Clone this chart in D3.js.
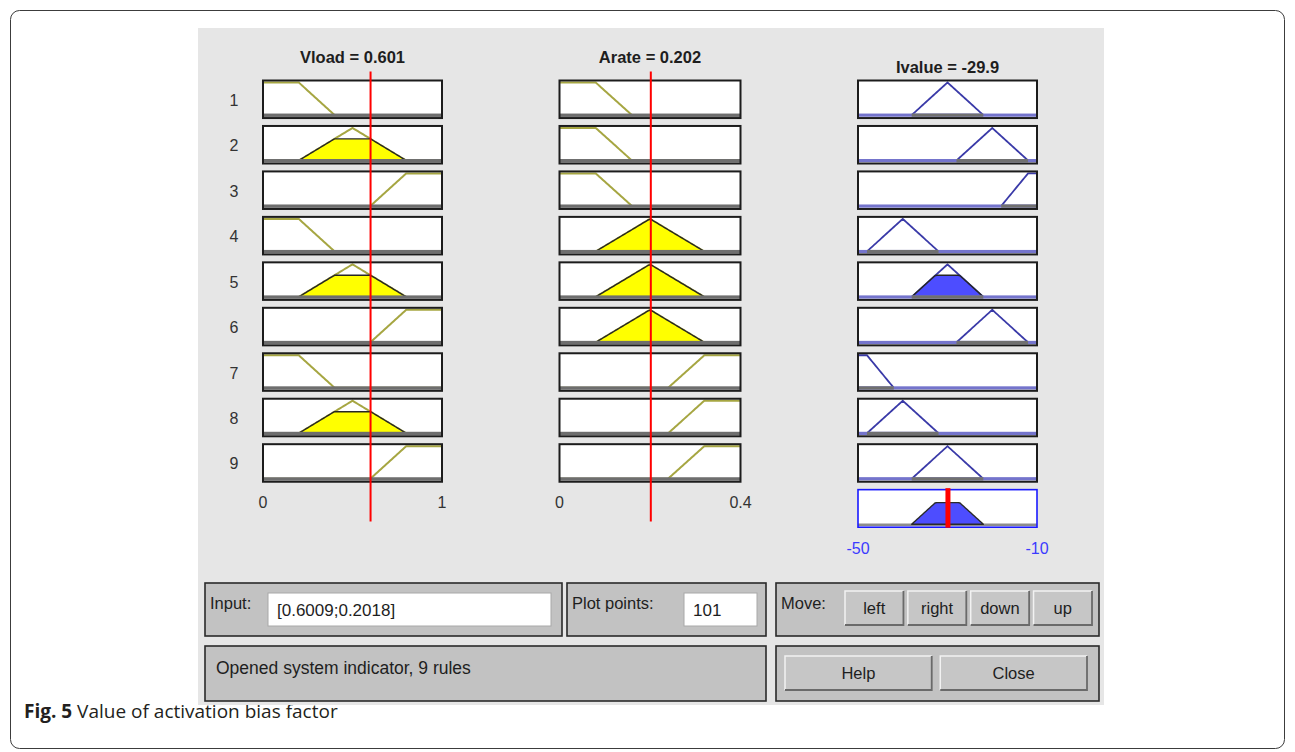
<!DOCTYPE html>
<html>
<head>
<meta charset="utf-8">
<script src="https://cdn.jsdelivr.net/npm/d3@7"></script>
<style>
  html, body { margin: 0; padding: 0; background: #fff; }
  svg { display: block; }
</style>
</head>
<body>
<svg id="chart" width="1295" height="752"></svg>
<script>
// ---- Fuzzy system "indicator": two inputs, one output, nine rules ----
const inputNames = ["Vload", "Arate"];
const inputValues = [0.6009, 0.2018];
const inputRanges = [[0, 1], [0, 0.4]];
const inputTickLabels = [["0", "1"], ["0", "0.4"]];

// Membership functions as trapezoids [a, b, c, d] (triangles have b === c)
const vloadMF = { low: [0, 0, 0.2, 0.4], mid: [0.2, 0.5, 0.5, 0.8], high: [0.6, 0.8, 1, 1] };
const arateMF = { low: [0, 0, 0.08, 0.16], mid: [0.08, 0.2, 0.2, 0.32], high: [0.24, 0.32, 0.4, 0.4] };

const outputName = "Ivalue";
const outputValue = -29.9;
const outputRange = [-50, -10];
const outputTickLabels = ["-50", "-10"];
const ivalueMF = {
  vlow:  [-50, -50, -48, -42],
  low:   [-48, -40, -40, -32],
  mid:   [-38, -30, -30, -22],
  high:  [-28, -20, -20, -12],
  vhigh: [-18, -12, -10, -10]
};

// Rule base: antecedent and consequent terms for rules 1..9
const ruleIds    = [1, 2, 3, 4, 5, 6, 7, 8, 9];
const ruleVload  = ["low", "mid", "high", "low", "mid", "high", "low", "mid", "high"];
const ruleArate  = ["low", "low", "low", "mid", "mid", "mid", "high", "high", "high"];
const ruleIvalue = ["mid", "high", "vhigh", "low", "mid", "high", "vlow", "low", "mid"];

const plotPoints = 101;
const statusText = "Opened system indicator, 9 rules";
const moveButtons = ["left", "right", "down", "up"];
const dialogButtons = ["Help", "Close"];

// ---- helpers ----
function trapmf(x, p) {
  const [a, b, c, d] = p;
  if (x < a || x > d) return 0;
  if (x >= b && x <= c) return 1;
  if (x < b) return (x - a) / (b - a);
  return (d - x) / (d - c);
}
function samples(domain) {
  return d3.range(plotPoints).map(k => domain[0] + k * (domain[1] - domain[0]) / (plotPoints - 1));
}
const fmt = d3.formatLocale({ decimal: ".", thousands: ",", grouping: [3], currency: ["", ""], minus: "-" }).format(".3~g");
const VISIBLE = 0.01;   // firing levels below this are not drawn

const svg = d3.select("#chart");
const UI_FONT = "'Liberation Sans', Arial, sans-serif";

// page frame and caption
svg.append("rect")
  .attr("x", 10.5).attr("y", 10.5).attr("width", 1274).attr("height", 738).attr("rx", 9)
  .attr("fill", "#fff").attr("stroke", "#3c3c3c").attr("stroke-width", 1);

const cap = svg.append("text").attr("x", 24).attr("y", 718)
  .attr("font-family", "'Open Sans', sans-serif").attr("font-size", 19).attr("fill", "#231f20");
cap.append("tspan").attr("font-weight", "bold").text("Fig. 5");
cap.append("tspan").text(" Value of activation bias factor");

// viewer window background
svg.append("rect").attr("x", 198).attr("y", 28).attr("width", 906).attr("height", 677).attr("fill", "#e6e6e6");

// ---- scales ----
const xScales = [
  d3.scaleLinear().domain(inputRanges[0]).range([263, 442]),
  d3.scaleLinear().domain(inputRanges[1]).range([559.5, 740.5])
];
const xOut = d3.scaleLinear().domain(outputRange).range([858, 1037]);
const rowBand = d3.scaleBand().domain(d3.range(10)).range([80.5, 527.2]).paddingInner(0.174).paddingOuter(0);
const bw = rowBand.bandwidth();
function yScale(i) {
  const top = rowBand(i);
  return d3.scaleLinear().domain([0, 1]).range([top + bw - 3, top + 2]);
}

const OLIVE = "#a6a642";
const plots = svg.append("g");

// ---- input columns ----
const inputMFs = [vloadMF, arateMF];
const inputRuleTerms = [ruleVload, ruleArate];
const inputLevels = inputValues.map((v, ci) => ruleIds.map((_, i) => trapmf(v, inputMFs[ci][inputRuleTerms[ci][i]])));

inputNames.forEach((name, ci) => {
  const x = xScales[ci];
  const xs = samples(x.domain());
  const [x0, x1] = x.range();
  const g = plots.append("g");

  g.append("text").attr("x", (x0 + x1) / 2).attr("y", 63)
    .attr("text-anchor", "middle").attr("font-family", UI_FONT).attr("font-weight", "bold")
    .attr("font-size", 16.5).attr("fill", "#1e1e1e")
    .text(`${name} = ${fmt(inputValues[ci])}`);

  ruleIds.forEach((id, i) => {
    const top = rowBand(i);
    const y = yScale(i);
    const p = inputMFs[ci][inputRuleTerms[ci][i]];
    const level = inputLevels[ci][i];
    const row = g.append("g");

    row.append("rect").attr("x", x0).attr("y", top).attr("width", x1 - x0).attr("height", bw).attr("fill", "#fff");
    row.append("path")
      .attr("d", d3.line().x(d => x(d)).y(d => y(trapmf(d, p)))(xs))
      .attr("fill", "none").attr("stroke", OLIVE).attr("stroke-width", 2);
    if (level > VISIBLE) {
      const pts = xs.filter((d, k) => trapmf(d, p) > 0 || trapmf(xs[Math.min(k + 1, xs.length - 1)], p) > 0 || trapmf(xs[Math.max(k - 1, 0)], p) > 0);
      row.append("path")
        .attr("d", d3.line().x(d => x(d)).y(d => y(Math.min(trapmf(d, p), level)))(pts) + "Z")
        .attr("fill", "#ffff00").attr("stroke", "#262626").attr("stroke-width", 1.4).attr("stroke-linejoin", "round");
    }
    row.append("rect").attr("x", x0).attr("y", top + bw - 4.5).attr("width", x1 - x0).attr("height", 3.4).attr("fill", "#6e6e6e");
    row.append("rect").attr("x", x0).attr("y", top).attr("width", x1 - x0).attr("height", bw)
      .attr("fill", "none").attr("stroke", "#1c1c1c").attr("stroke-width", 2);

    if (ci === 0) {
      g.append("text").attr("x", 234).attr("y", top + bw / 2 + 6.5)
        .attr("text-anchor", "middle").attr("font-family", UI_FONT).attr("font-size", 16).attr("fill", "#333")
        .text(id);
    }
  });

  inputTickLabels[ci].forEach((t, k) => {
    g.append("text").attr("x", x(x.domain()[k])).attr("y", 508)
      .attr("text-anchor", "middle").attr("font-family", UI_FONT).attr("font-size", 16).attr("fill", "#333")
      .text(t);
  });

  g.append("line").attr("x1", x(inputValues[ci])).attr("x2", x(inputValues[ci]))
    .attr("y1", 71.5).attr("y2", 521.5).attr("stroke", "#ff0000").attr("stroke-width", 2);
});

// ---- output column ----
const firing = ruleIds.map((_, i) => Math.min(inputLevels[0][i], inputLevels[1][i]));
const xsOut = samples(outputRange);
const [ox0, ox1] = xOut.range();
const og = plots.append("g");

og.append("text").attr("x", (ox0 + ox1) / 2).attr("y", 72.5)
  .attr("text-anchor", "middle").attr("font-family", UI_FONT).attr("font-weight", "bold")
  .attr("font-size", 16.5).attr("fill", "#1e1e1e")
  .text(`${outputName} = ${fmt(outputValue)}`);

ruleIds.forEach((id, i) => {
  const top = rowBand(i);
  const y = yScale(i);
  const p = ivalueMF[ruleIvalue[i]];
  const row = og.append("g");
  row.append("rect").attr("x", ox0).attr("y", top).attr("width", ox1 - ox0).attr("height", bw).attr("fill", "#fff");
  row.append("path")
    .attr("d", d3.line().x(d => xOut(d)).y(d => y(trapmf(d, p)))(xsOut))
    .attr("fill", "none").attr("stroke", "#3a3aa8").attr("stroke-width", 1.8);
  if (firing[i] > VISIBLE) {
    const pts = xsOut.filter(d => d >= p[0] && d <= p[3]);
    row.append("path")
      .attr("d", d3.line().x(d => xOut(d)).y(d => y(Math.min(trapmf(d, p), firing[i])))(pts) + "Z")
      .attr("fill", "#4d4dff").attr("stroke", "#262626").attr("stroke-width", 1.4).attr("stroke-linejoin", "round");
  }
  row.append("rect").attr("x", ox0).attr("y", top + bw - 4.5).attr("width", ox1 - ox0).attr("height", 3.2).attr("fill", "#7474cc");
  row.append("rect").attr("x", xOut(Math.max(p[0], outputRange[0]))).attr("y", top + bw - 4.5)
    .attr("width", xOut(Math.min(p[3], outputRange[1])) - xOut(Math.max(p[0], outputRange[0]))).attr("height", 3.2).attr("fill", "#707070");
  row.append("rect").attr("x", ox0).attr("y", top).attr("width", ox1 - ox0).attr("height", bw)
    .attr("fill", "none").attr("stroke", "#1c1c1c").attr("stroke-width", 2);
});

// aggregated output
{
  const i = 9;
  const top = rowBand(i);
  const y = yScale(i);
  const agg = d => d3.max(ruleIds, (_, r) => firing[r] > VISIBLE ? Math.min(trapmf(d, ivalueMF[ruleIvalue[r]]), firing[r]) : 0);
  og.append("rect").attr("x", ox0).attr("y", top).attr("width", ox1 - ox0).attr("height", bw).attr("fill", "#fff");
  og.append("line").attr("x1", ox0).attr("x2", ox1).attr("y1", y(0) + 0.5).attr("y2", y(0) + 0.5)
    .attr("stroke", "#8c8c8c").attr("stroke-width", 2.4);
  const pts = xsOut.filter((d, k) => agg(d) > 0 || agg(xsOut[Math.min(k + 1, xsOut.length - 1)]) > 0 || agg(xsOut[Math.max(k - 1, 0)]) > 0);
  og.append("path")
    .attr("d", d3.line().x(d => xOut(d)).y(d => y(agg(d)))(pts) + "Z")
    .attr("fill", "#4d4dff").attr("stroke", "#2a2a2a").attr("stroke-width", 1.4).attr("stroke-linejoin", "round");
  og.append("rect").attr("x", ox0).attr("y", top).attr("width", ox1 - ox0).attr("height", bw)
    .attr("fill", "none").attr("stroke", "#1a1aff").attr("stroke-width", 1.6);
  og.append("line").attr("x1", xOut(outputValue)).attr("x2", xOut(outputValue))
    .attr("y1", top - 1.5).attr("y2", top + bw + 0.5).attr("stroke", "#ff0000").attr("stroke-width", 5);

  outputTickLabels.forEach((t, k) => {
    og.append("text").attr("x", xOut(outputRange[k])).attr("y", 554)
      .attr("text-anchor", "middle").attr("font-family", UI_FONT).attr("font-size", 16).attr("fill", "#3b3bff")
      .text(t);
  });
}

// ---- control panel ----
const ctrl = svg.append("g").attr("font-family", UI_FONT).attr("font-size", 16.5).attr("fill", "#1e1e1e");

function frame(x, y, w, h) {
  ctrl.append("rect").attr("x", x).attr("y", y).attr("width", w).attr("height", h)
    .attr("fill", "#c2c2c2").attr("stroke", "#2a2a2a").attr("stroke-width", 1.6);
}
function editBox(x, y, w, h, txt) {
  ctrl.append("rect").attr("x", x).attr("y", y).attr("width", w).attr("height", h)
    .attr("fill", "#fff").attr("stroke", "#a8a8a8").attr("stroke-width", 1);
  ctrl.append("text").attr("x", x + 9).attr("y", y + h / 2 + 6.5).attr("font-size", 17).text(txt);
}
function button(x, y, w, h, txt) {
  ctrl.append("rect").attr("x", x).attr("y", y).attr("width", w).attr("height", h).attr("fill", "#c6c6c6");
  ctrl.append("path").attr("d", `M${x},${y + h} V${y} H${x + w}`).attr("fill", "none").attr("stroke", "#f2f2f2").attr("stroke-width", 1.5);
  ctrl.append("path").attr("d", `M${x + w},${y} V${y + h} H${x}`).attr("fill", "none").attr("stroke", "#6a6a6a").attr("stroke-width", 1.8);
  ctrl.append("text").attr("x", x + w / 2).attr("y", y + h / 2 + 6).attr("text-anchor", "middle").text(txt);
}

frame(205, 583, 357, 53);
ctrl.append("text").attr("x", 210).attr("y", 609).text("Input:");
editBox(268, 593, 283, 33, `[${inputValues.join(";")}]`);

frame(567, 583, 199, 53);
ctrl.append("text").attr("x", 572).attr("y", 609).text("Plot points:");
editBox(684, 593, 73, 33, String(plotPoints));

frame(776, 583, 323, 53);
ctrl.append("text").attr("x", 781).attr("y", 609).text("Move:");
const moveX = d3.scaleBand().domain(moveButtons).range([845, 1092]).paddingInner(0.07);
moveButtons.forEach(b => button(moveX(b), 591, moveX.bandwidth(), 34, b));

frame(205, 646, 561, 55);
ctrl.append("text").attr("x", 216).attr("y", 674).attr("font-size", 17.5).text(statusText);

frame(776, 646, 323, 55);
const dlgX = d3.scaleBand().domain(dialogButtons).range([785, 1087]).paddingInner(0.055);
dialogButtons.forEach(b => button(dlgX(b), 656, dlgX.bandwidth(), 34, b));
</script>
</body>
</html>
